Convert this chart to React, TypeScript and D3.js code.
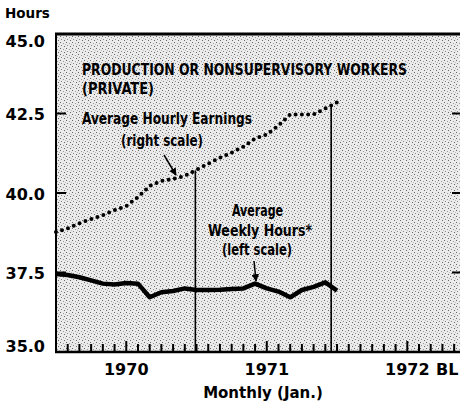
import React, { useEffect, useRef } from 'react';
import * as d3 from 'd3';

// monthly observations, Jul 1969 .. Jul 1971
const months = [
  '1969-07', '1969-08', '1969-09', '1969-10', '1969-11', '1969-12',
  '1970-01', '1970-02', '1970-03', '1970-04', '1970-05', '1970-06',
  '1970-07', '1970-08', '1970-09', '1970-10', '1970-11', '1970-12',
  '1971-01', '1971-02', '1971-03', '1971-04', '1971-05', '1971-06',
  '1971-07',
];
// average weekly hours (left scale)
const weeklyHours = [
  37.45, 37.42, 37.35, 37.25, 37.15, 37.12, 37.17, 37.15, 36.72, 36.88,
  36.92, 37.0, 36.95, 36.95, 36.96, 36.98, 37.0, 37.15, 37.0, 36.9,
  36.72, 36.95, 37.05, 37.19, 36.93,
];
// average hourly earnings, dollars (right scale)
const hourlyEarnings = [
  3.127, 3.139, 3.155, 3.168, 3.18, 3.196, 3.209, 3.237, 3.272, 3.288,
  3.294, 3.304, 3.323, 3.342, 3.361, 3.377, 3.396, 3.421, 3.434, 3.462,
  3.497, 3.497, 3.497, 3.516, 3.535,
];
const leftTicks = [35, 37.5, 40, 42.5, 45];
const rightTicks = [3.0, 3.25, 3.5];
const yearLabels = ['1970', '1971', '1972'];
// vertical marker lines (month offsets from Jul 1969)
const markerMonths = [11.9, 23.5];

const monthIndex = (s: string) => {
  const [y, m] = s.split('-').map(Number);
  return (y - 1969) * 12 + (m - 7);
};

const App = () => {
  const svgRef = useRef<SVGSVGElement>(null);

  useEffect(() => {
    document.body.style.margin = '0';
    const svg = d3.select(svgRef.current);
    svg.selectAll('*').remove();

    const W = 460, H = 405;
    const left = 56, top = 34, bottom = 352;
    svg.attr('width', W).attr('height', H);

    const x = d3.scaleLinear().domain([0, 34.5]).range([left, W]);
    const yL = d3.scaleLinear().domain([35, 45]).range([bottom, top]);
    const yR = d3.scaleLinear().domain([2.75, 3.75]).range([bottom, top]);

    const bold = "'DejaVu Sans', sans-serif";
    const narrow = "'DejaVu Sans Condensed', 'Liberation Sans', sans-serif";

    const defs = svg.append('defs');
    const pat = defs.append('pattern')
      .attr('id', 'halftone')
      .attr('width', 6).attr('height', 6)
      .attr('patternUnits', 'userSpaceOnUse');
    pat.append('rect').attr('width', 6).attr('height', 6).attr('fill', '#ebebeb');
    // a few dark specks per cell for the halftone look
    [[0, 0, '#666'], [3, 1, '#999'], [1, 3, '#888'], [4, 4, '#666'], [5, 2, '#bbb']]
      .forEach(([px, py, c]) => {
        pat.append('rect').attr('x', px).attr('y', py)
          .attr('width', 1).attr('height', 1).attr('fill', c as string);
      });

    defs.append('marker')
      .attr('id', 'arrow')
      .attr('viewBox', '0 0 10 10')
      .attr('refX', 9).attr('refY', 5)
      .attr('markerWidth', 5).attr('markerHeight', 5)
      .attr('orient', 'auto')
      .append('path')
      .attr('d', 'M0,0 L10,5 L0,10 Z')
      .attr('fill', '#000');

    // plot background
    svg.append('rect')
      .attr('x', left).attr('y', top)
      .attr('width', W - left).attr('height', bottom - top)
      .attr('fill', 'url(#halftone)');

    // frame
    svg.append('line').attr('x1', left - 1).attr('x2', W).attr('y1', top).attr('y2', top)
      .attr('stroke', '#000').attr('stroke-width', 3);
    svg.append('line').attr('x1', left).attr('x2', left).attr('y1', top - 1).attr('y2', bottom + 1)
      .attr('stroke', '#000').attr('stroke-width', 2);
    svg.append('line').attr('x1', left - 1).attr('x2', W).attr('y1', bottom).attr('y2', bottom)
      .attr('stroke', '#000').attr('stroke-width', 2.5);

    // left ticks + labels
    svg.selectAll('.lt')
      .data(leftTicks.filter(d => d > 35 && d < 45))
      .enter().append('line')
      .attr('x1', left).attr('x2', left + 10)
      .attr('y1', d => yL(d)).attr('y2', d => yL(d))
      .attr('stroke', '#000').attr('stroke-width', 2);

    svg.selectAll('.ll')
      .data(leftTicks)
      .enter().append('text')
      .attr('x', 45)
      .attr('y', d => yL(d) + (d === 45 ? 7 : d === 35 ? -6 : 1))
      .attr('dy', '0.36em')
      .attr('text-anchor', 'end')
      .style('font-family', bold).style('font-weight', 'bold').style('font-size', '16px')
      .text(d => d.toFixed(1));

    // right ticks
    svg.selectAll('.rt')
      .data(rightTicks)
      .enter().append('line')
      .attr('x1', W - 8).attr('x2', W)
      .attr('y1', d => yR(d)).attr('y2', d => yR(d))
      .attr('stroke', '#000').attr('stroke-width', 2);

    // month ticks
    const monthTicks = d3.range(1, 35);
    svg.selectAll('.mt')
      .data(monthTicks)
      .enter().append('line')
      .attr('x1', d => x(d)).attr('x2', d => x(d))
      .attr('y1', bottom)
      .attr('y2', d => (d % 12 === 6 ? bottom - 11 : bottom - 8))
      .attr('stroke', '#000').attr('stroke-width', 2);

    // year labels under January ticks
    svg.selectAll('.yl')
      .data(yearLabels)
      .enter().append('text')
      .attr('x', d => x(monthIndex(d + '-01')))
      .attr('y', 375)
      .attr('text-anchor', 'middle')
      .style('font-family', bold).style('font-weight', 'bold').style('font-size', '16px')
      .text(d => d);

    svg.append('text')
      .attr('x', 436).attr('y', 375)
      .style('font-family', bold).style('font-weight', 'bold').style('font-size', '16px')
      .text('BL');

    svg.append('text')
      .attr('x', 263).attr('y', 398)
      .attr('text-anchor', 'middle')
      .style('font-family', bold).style('font-weight', 'bold').style('font-size', '15px')
      .text('Monthly (Jan.)');

    svg.append('text')
      .attr('x', 5).attr('y', 18)
      .style('font-family', bold).style('font-weight', 'bold').style('font-size', '13.5px')
      .text('Hours');

    // vertical markers, from the earnings line down to the axis
    const earnAt = d3.scaleLinear()
      .domain(months.map(monthIndex))
      .range(hourlyEarnings);
    svg.selectAll('.vm')
      .data(markerMonths)
      .enter().append('line')
      .attr('x1', d => x(d)).attr('x2', d => x(d))
      .attr('y1', d => yR(earnAt(d)))
      .attr('y2', bottom)
      .attr('stroke', '#000').attr('stroke-width', 1.6);

    // earnings (dotted)
    const earnLine = d3.line<number>()
      .x((d, i) => x(monthIndex(months[i])))
      .y(d => yR(d));
    svg.append('path')
      .attr('d', earnLine(hourlyEarnings))
      .attr('fill', 'none')
      .attr('stroke', '#000')
      .attr('stroke-width', 4)
      .attr('stroke-linecap', 'round')
      .attr('stroke-dasharray', '0 6.3');

    // weekly hours (solid heavy)
    const hoursLine = d3.line<number>()
      .x((d, i) => x(monthIndex(months[i])))
      .y(d => yL(d));
    svg.append('path')
      .attr('d', hoursLine(weeklyHours))
      .attr('fill', 'none')
      .attr('stroke', '#000')
      .attr('stroke-width', 4.5)
      .attr('stroke-linejoin', 'round');

    // annotations
    const label = (txt: string, tx: number, ty: number, size: number, len: number) =>
      svg.append('text')
        .attr('x', tx).attr('y', ty)
        .attr('textLength', len)
        .attr('lengthAdjust', 'spacingAndGlyphs')
        .style('font-family', narrow).style('font-weight', 'bold').style('font-size', size + 'px')
        .text(txt);

    label('PRODUCTION OR NONSUPERVISORY WORKERS', 82, 75, 16, 325);
    label('(PRIVATE)', 82, 94, 16, 72);
    label('Average Hourly Earnings', 82, 124, 16, 170);
    label('(right scale)', 121, 146, 16, 82);
    label('Average', 232, 216, 16, 51);
    label('Weekly Hours*', 208, 236, 16, 104);
    label('(left scale)', 222, 255, 16, 70);

    svg.append('line')
      .attr('x1', 164).attr('y1', 155).attr('x2', 176).attr('y2', 175)
      .attr('stroke', '#000').attr('stroke-width', 1.5)
      .attr('marker-end', 'url(#arrow)');
    svg.append('line')
      .attr('x1', 254).attr('y1', 261).attr('x2', 256).attr('y2', 281)
      .attr('stroke', '#000').attr('stroke-width', 1.5)
      .attr('marker-end', 'url(#arrow)');
  }, []);

  return <svg ref={svgRef}></svg>;
};

export default App;
